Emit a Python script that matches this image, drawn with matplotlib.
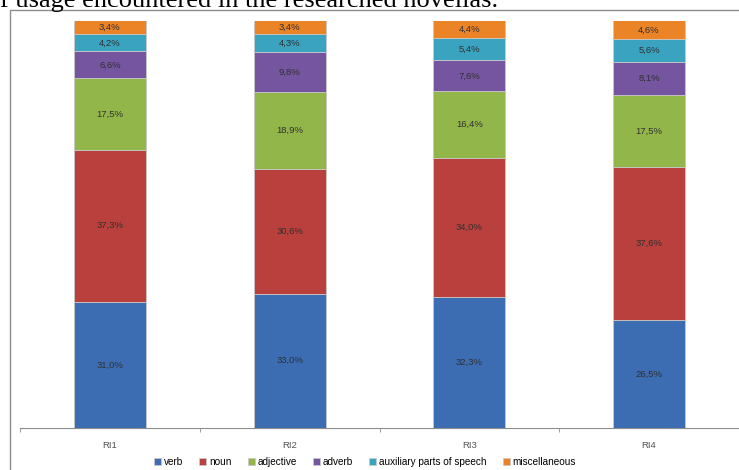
import numpy as np
import matplotlib.pyplot as plt
from matplotlib.patches import Rectangle

categories = ["RI1", "RI2", "RI3", "RI4"]
series = ["verb", "noun", "adjective", "adverb", "auxiliary parts of speech", "miscellaneous"]

verb = [31.0, 33.0, 32.3, 26.5]
noun = [37.3, 30.6, 34.0, 37.6]
adjective = [17.5, 18.9, 16.4, 17.5]
adverb = [6.6, 9.8, 7.6, 8.1]
auxiliary = [4.2, 4.3, 5.4, 5.6]
misc = [3.4, 3.4, 4.4, 4.6]

colors = ["#3c6db3", "#b9403c", "#93b64b", "#75559f", "#3aa4c0", "#ea8427"]

W, H = 739, 470
fig = plt.figure(figsize=(W / 100, H / 100), dpi=100)

# chart border (right and bottom edges fall outside the crop)
fig.patches.append(Rectangle((9.5 / W, -0.1), 1.2, 1 - 10 / H + 0.1,
                             transform=fig.transFigure, fill=False,
                             edgecolor="#8c8c8c", linewidth=1.0))

# cut-off caption above the chart
fig.text(498 / W, 1 - 7 / H, "f usage encountered in the researched novellas.",
         ha="right", va="baseline", fontsize=19, family="Liberation Serif",
         color="black")

ax = fig.add_axes([20 / W, (H - 428) / H, 719 / W, (428 - 20.5) / H])

data = np.array([verb, noun, adjective, adverb, auxiliary, misc])
totals = data.sum(axis=0)
pct = data / totals * 100
x = np.arange(len(categories))
bottom = np.zeros(len(categories))
for i, name in enumerate(series):
    ax.bar(x, pct[i], 0.4, bottom=bottom, color=colors[i], label=name,
           edgecolor="#c8c8c8", linewidth=0.6)
    for j in range(len(categories)):
        ax.text(x[j], bottom[j] + pct[i][j] / 2, f"{data[i][j]:.1f}%".replace(".", ","),
                ha="center", va="center", fontsize=6.8, color="#303030",
                family="Liberation Sans")
    bottom += pct[i]

ax.set_xlim(-0.5, 3.5)
ax.set_ylim(0, 100)
ax.set_yticks([])
ax.set_xticks(x)
ax.set_xticklabels(categories, fontsize=6.8, color="#505050", family="Liberation Sans")
ax.tick_params(axis="x", which="major", length=0, pad=9)
ax.set_xticks(np.arange(-0.5, 4.0, 1.0), minor=True)
ax.tick_params(axis="x", which="minor", length=3, color="#8c8c8c")
for s in ["top", "right", "left"]:
    ax.spines[s].set_visible(False)
ax.spines["bottom"].set_color("#8c8c8c")
ax.patch.set_alpha(0)

fig.legend(loc="center", bbox_to_anchor=(365 / W, 1 - 462 / H), ncol=6,
           frameon=False, handlelength=0.7, handleheight=0.7,
           handletextpad=0.3, columnspacing=1.6,
           prop={"family": "Liberation Sans", "size": 7.2})

fig.savefig("out.png", dpi=100)
